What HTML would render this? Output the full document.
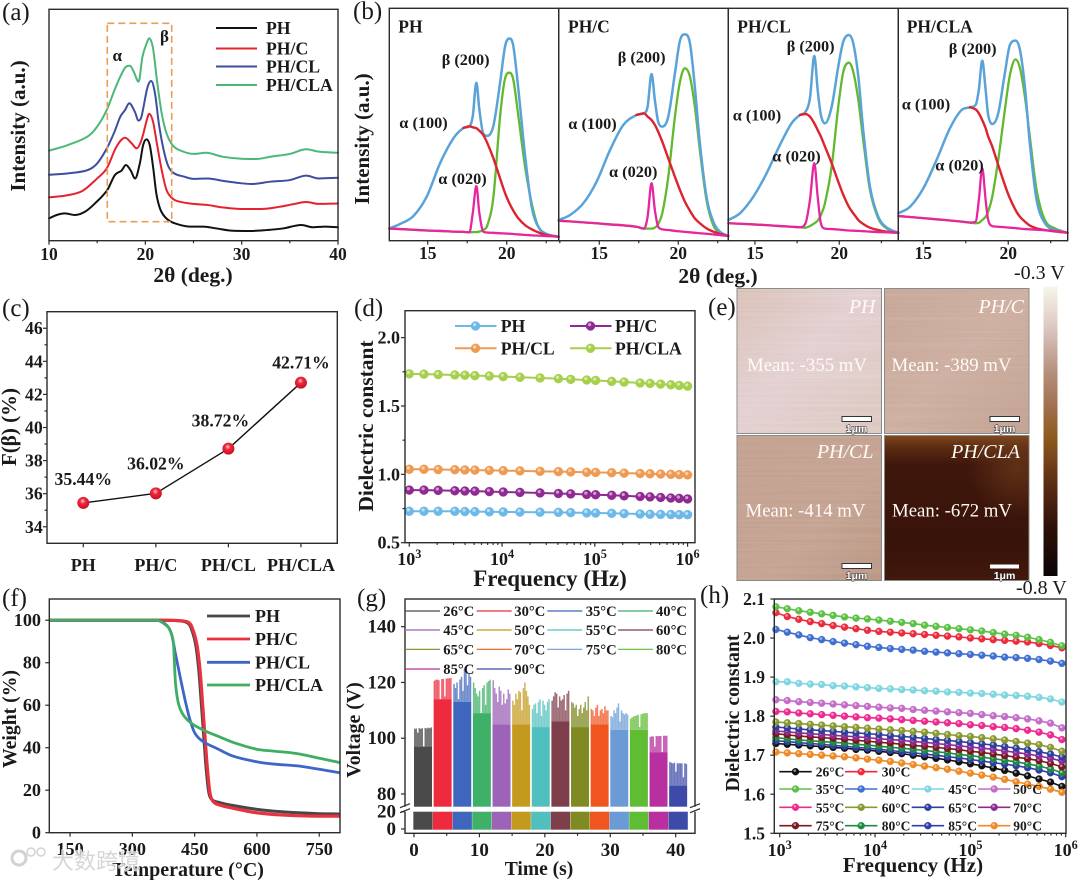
<!DOCTYPE html>
<html lang="en">
<head>
<meta charset="utf-8">
<title>PH composite characterisation figure</title>
<style>
html,body{margin:0;padding:0;background:#fff;}
svg{display:block;}
text{font-family:"Liberation Serif","Noto Serif CJK SC",serif;fill:#1a1a1a;}
.b{font-weight:bold;}
.w{fill:#fffaf6;}
.wm{font-family:"Liberation Sans","Noto Sans CJK SC",sans-serif;fill:#cfcfcf;stroke:#fff;stroke-width:1.5px;paint-order:stroke;opacity:.85;}
.sb{font-family:"Liberation Sans",sans-serif;font-weight:bold;fill:#fff;stroke:#222;stroke-width:1px;paint-order:stroke;}
</style>
</head>
<body>
<svg id="figure" xmlns="http://www.w3.org/2000/svg" width="1080" height="880" viewBox="0 0 1080 880">
<defs>
<radialGradient id="redBall" cx="45%" cy="35%" r="65%"><stop offset="0" stop-color="#ffc9cf"/><stop offset=".35" stop-color="#f0283c"/><stop offset="1" stop-color="#c3101f"/></radialGradient>
<linearGradient id="cbar" x1="0" y1="0" x2="0" y2="1">
<stop offset="0" stop-color="#f7f6ea"/><stop offset=".14" stop-color="#dcc8c2"/><stop offset=".3" stop-color="#b58e7b"/><stop offset=".42" stop-color="#a06f4c"/><stop offset=".52" stop-color="#8f5a1e"/><stop offset=".68" stop-color="#5b2d14"/><stop offset=".84" stop-color="#2c0f08"/><stop offset="1" stop-color="#0b0505"/>
</linearGradient>
<linearGradient id="afmA" x1="0" y1="0" x2="1" y2="1"><stop offset="0" stop-color="#d8bfb4"/><stop offset=".45" stop-color="#e2ced0"/><stop offset="1" stop-color="#dcc7be"/></linearGradient>
<linearGradient id="afmB" x1="0" y1="0" x2="1" y2="1"><stop offset="0" stop-color="#c6a696"/><stop offset=".5" stop-color="#cdaea0"/><stop offset="1" stop-color="#c1a08f"/></linearGradient>
<linearGradient id="afmC" x1="0" y1="0" x2="1" y2="1"><stop offset="0" stop-color="#c2a08e"/><stop offset=".6" stop-color="#c4a291"/><stop offset="1" stop-color="#b99582"/></linearGradient>
<linearGradient id="afmD" x1="0" y1="0" x2="0" y2="1"><stop offset="0" stop-color="#80491f"/><stop offset=".08" stop-color="#5c2c12"/><stop offset=".2" stop-color="#3f170b"/><stop offset=".75" stop-color="#38130a"/><stop offset="1" stop-color="#42180b"/></linearGradient>
<radialGradient id="afmD2" cx="92%" cy="22%" r="35%"><stop offset="0" stop-color="#7a4620" stop-opacity=".55"/><stop offset="1" stop-color="#7a4620" stop-opacity="0"/></radialGradient>
<filter id="streak" x="0" y="0" width="100%" height="100%"><feTurbulence type="fractalNoise" baseFrequency="0.004 0.45" numOctaves="2" seed="4"/><feColorMatrix type="matrix" values="0 0 0 0 1  0 0 0 0 1  0 0 0 0 1  .55 0 0 0 -.14"/></filter>
</defs>
<rect width="1080" height="880" fill="#fff"/>

<g id="panelA">
<text x="2" y="20" font-size="25">(a)</text>
<text class="b" x="193" y="282" font-size="21.5" text-anchor="middle">2θ (deg.)</text>
<text class="b" transform="translate(25,126) rotate(-90)" font-size="21" text-anchor="middle">Intensity (a.u.)</text>
<text class="b" x="112.5" y="61" font-size="17">α</text>
<text class="b" x="160" y="42" font-size="17">β</text>
</g>
<g id="panelB">
<text x="353" y="19" font-size="25">(b)</text>
<text class="b" x="718" y="283" font-size="21.5" text-anchor="middle">2θ (deg.)</text>
<text class="b" transform="translate(369,139) rotate(-90)" font-size="21" text-anchor="middle">Intensity (a.u.)</text>
</g>
<g id="panelC">
<text x="2" y="316" font-size="25">(c)</text>
<text class="b" transform="translate(16,427) rotate(-90)" font-size="21" text-anchor="middle">F(β) (%)</text>
</g>
<g id="panelD">
<text x="354" y="316" font-size="25">(d)</text>
<text class="b" x="550" y="586" font-size="23" text-anchor="middle">Frequency (Hz)</text>
<text class="b" transform="translate(373,426) rotate(-90)" font-size="21.5" text-anchor="middle">Dielectric constant</text>
</g>
<g id="panelE">
<text x="708" y="315" font-size="25">(e)</text>
<g>
<rect x="737" y="288.5" width="144.5" height="145" fill="url(#afmA)" stroke="#8a8a8a" stroke-width="1"/>
<rect x="737" y="289" width="144" height="144" filter="url(#streak)" opacity=".5"/>
<text class="w" x="875.5" y="313" font-size="20" font-style="italic" text-anchor="end">PH</text>
<text class="w" x="747" y="371" font-size="18.8">Mean: -355 mV</text>
<rect x="842" y="416.5" width="29.5" height="5" fill="#fff" stroke="#333" stroke-width="1"/>
<text class="sb" x="856.5" y="432" font-size="10.5" text-anchor="middle">1μm</text>
</g>
<g>
<rect x="884.5" y="288.5" width="144.5" height="145" fill="url(#afmB)" stroke="#8a8a8a" stroke-width="1"/>
<rect x="885" y="289" width="144" height="144" filter="url(#streak)" opacity=".3"/>
<text class="w" x="1024" y="313" font-size="20" font-style="italic" text-anchor="end">PH/C</text>
<text class="w" x="891.5" y="371" font-size="18.8">Mean: -389 mV</text>
<rect x="990" y="416.5" width="29.5" height="5" fill="#fff" stroke="#333" stroke-width="1"/>
<text class="sb" x="1004.5" y="432" font-size="10.5" text-anchor="middle">1μm</text>
</g>
<g>
<rect x="737" y="435.5" width="144.5" height="145" fill="url(#afmC)" stroke="#8a8a8a" stroke-width="1"/>
<rect x="737" y="436" width="144" height="144" filter="url(#streak)" opacity=".25"/>
<text class="w" x="873.5" y="458" font-size="20" font-style="italic" text-anchor="end">PH/CL</text>
<text class="w" x="745.5" y="516.5" font-size="18.8">Mean: -414 mV</text>
<rect x="842" y="563.5" width="29.5" height="5" fill="#fff" stroke="#333" stroke-width="1"/>
<text class="sb" x="856.5" y="579" font-size="10.5" text-anchor="middle">1μm</text>
</g>
<g>
<rect x="884.5" y="435.5" width="144.5" height="145" fill="url(#afmD)" stroke="#8a8a8a" stroke-width="1"/>
<rect x="885" y="436" width="144" height="144" fill="url(#afmD2)"/>
<text class="w" x="1020" y="458" font-size="20" font-style="italic" text-anchor="end">PH/CLA</text>
<text class="w" x="892" y="516.5" font-size="18.8">Mean: -672 mV</text>
<rect x="990" y="564.5" width="29" height="4" fill="#fff"/>
<text class="sb" x="1004.5" y="579" font-size="10.5" text-anchor="middle">1μm</text>
</g>
<rect x="1043.5" y="286.5" width="14" height="289.5" fill="url(#cbar)"/>
<text x="1014" y="279" font-size="20">-0.3 V</text>
<text x="1016" y="594" font-size="20">-0.8 V</text>
</g>
<g id="panelF">
<text x="2" y="606" font-size="25">(f)</text>
<text class="b" x="188" y="876" font-size="20" text-anchor="middle">Temperature (°C)</text>
<text class="b" transform="translate(16,719) rotate(-90)" font-size="19.7" text-anchor="middle">Weight (%)</text>
</g>
<g id="panelG">
<text x="357" y="606" font-size="25">(g)</text>
<text class="b" x="539" y="875" font-size="19.5" text-anchor="middle">Time (s)</text>
<text class="b" transform="translate(360,730) rotate(-90)" font-size="19.8" text-anchor="middle">Voltage (V)</text>
</g>
<g id="panelH">
<text x="700" y="603" font-size="25">(h)</text>
<text class="b" x="913" y="872" font-size="21" text-anchor="middle">Frequency (Hz)</text>
<text class="b" transform="translate(739,713) rotate(-90)" font-size="19.7" text-anchor="middle">Dielectric constant</text>
</g>
<g id="watermark">
<circle cx="19" cy="858" r="7" fill="none" stroke="#d2d2d2" stroke-width="3"/>
<circle cx="31" cy="852" r="4" fill="none" stroke="#d2d2d2" stroke-width="1.5"/>
<circle cx="41" cy="852" r="4" fill="none" stroke="#d2d2d2" stroke-width="1.5"/>
<text class="wm" x="52" y="869" font-size="22">大数跨境</text>
</g>
</svg>
<script>
/* ---------- panel (a) data ---------- */
const aThetaPH=[10,10.8,11.65,12.7,13.73,14.77,16.05,16.84,17.53,17.98,18.46,18.94,19.43,19.77,20.12,20.46,20.81,21.15,21.57,22.19,23.06,24.62,26,27.38,29.11,30.83,32.56,34.29,36.19,37.4,38.61,40];
const aIntensityPH=[9.65,11.1,11.8,11.1,12.5,16.1,21.9,28.4,30.3,32.7,30.5,26.9,33.4,41.3,43.8,41.3,31.7,20.2,13.4,9.6,7.5,6.1,6.1,5.3,4.3,4.2,4.6,5.3,6.8,5.8,6.1,5.8];
const aThetaPHC=[10,12,13.5,15,16,17,17.9,18.6,19.1,19.6,20.2,20.4,20.8,21.2,21.7,22.2,22.8,23.5,25,26.5,28,30,32,34,35.5,36.7,38,40];
const aIntensityPHC=[18.7,19.7,21.6,26.9,31.3,40.6,44.5,42,39.9,43.5,52.9,54.8,51.4,42,30.5,21.9,18.3,16.9,15.9,15.4,14.4,13.7,13.7,14.7,15.9,16.7,15.9,16.1];
const aThetaPHCL=[10,12,14,15,16,16.8,17.4,17.9,18.33,18.9,19.3,19.6,20.2,20.6,21,21.4,21.9,22.4,23,24,25,26.5,28,30,31,33,35,36.7,38,40];
const aIntensityPHCL=[28.5,29.1,30.5,33.4,39.9,47.1,53.6,56.5,59.4,55.8,51.9,53.6,65.9,69,63.7,50.7,39.2,32,29.1,27.7,26.7,26.9,25.9,24.8,24.5,25.5,26.2,28.1,26.9,27.2];
const aThetaPHCLA=[10,12,14,15,16,16.8,17.4,18,18.4,18.8,19.3,19.7,20.2,20.4,20.8,21.2,21.7,22.2,22.8,23.5,25,26.3,28,30,31.5,33,35,36.7,38,40];
const aIntensityPHCLA=[38.9,41.4,45,49.3,56.5,65.1,70.9,75.2,75.6,73,68.7,79.5,86,87.5,83.1,69.5,55,46.4,41.4,39.2,37.5,38,36.3,35.4,35.3,36.3,37.5,39.5,38.5,38];
const aTickLabels=[10,20,30,40];
const aMinorTicks=[15,25,35];
const sampleNames=['PH','PH/C','PH/CL','PH/CLA'];

/* ---------- panel (b) data ---------- */
const bThetaPH=[12.57,13.25,14.09,14.94,15.78,16.63,17.26,17.64,17.85,18.08,18.27,18.52,18.78,19.16,19.58,19.9,20.17,20.42,20.74,21.16,21.58,22,22.53,23.29];
const bEnvelopePH=[5.3,7.2,10.6,19,33.3,44.1,48.5,49.2,53.5,67.9,56.4,46,45.1,49.5,67.9,83.7,87,83.7,65,36.7,14.6,6,2.9,1.7];
const bAlpha100PH=[5.3,7.2,10.6,19,33.3,44.1,48.5,49.2,48.8,48.4,47.3,45.5,41.9,35.4,26.8,20.4,16.1,12.9,9.6,6.7,4.9,3.6,2.4,1.7];
const bBeta200PH=[5.2,5,4.7,4.4,4.2,3.9,3.8,3.6,3.7,3.7,3.9,4.6,6.7,18.9,53.4,69.9,72.3,69.2,53.4,31.9,16.1,6,2.9,1.7];
const bAlpha020PH=[5.2,5,4.7,4.4,4.2,3.9,3.8,3.6,11.8,23.5,11.8,3.9,3.5,3.4,3.2,3.1,3,2.9,2.7,2.5,2.3,2.2,2,1.7];
const bThetaPHC=[12.43,13.14,13.99,14.83,15.68,16.52,17.36,17.83,18.06,18.31,18.52,18.73,18.99,19.37,19.79,20.11,20.42,20.74,21.05,21.37,21.79,22.22,22.64,23.17];
const bEnvelopePHC=[8.9,11,16.1,25.4,39,49.8,54.1,54.8,57.7,71.7,60.5,51.2,49.1,53.4,72,86.1,88.8,85,66.3,41.9,18.9,8.2,3.9,2];
const bAlpha100PHC=[8.9,11,16.1,25.4,39,49.8,54.1,54.8,53.4,51.9,49.8,46.9,42.6,35.4,27.5,21.8,16.8,12.9,9.6,7.5,5.3,3.9,2.9,2];
const bBeta200PHC=[8.6,8.3,7.9,7.5,7,6.6,6,5.2,5.2,5.2,5.6,7.2,11.8,27.5,53.4,68.4,74.2,70.6,57.7,39,17.5,6.7,3.4,2];
const bAlpha020PHC=[8.6,8.3,7.9,7.5,7,6.6,6,5.2,10.3,24.7,13.2,6,4.9,4.6,4.2,4,3.8,3.6,3.4,3.2,3,2.7,2.4,2];
const bThetaPHCL=[13.42,14.11,14.9,15.69,16.48,17.17,17.67,18,18.26,18.52,18.72,18.91,19.15,19.55,19.94,20.24,20.57,20.83,21.13,21.42,21.82,22.31,22.81,23.5];
const bEnvelopePHCL=[8.9,11.8,18.9,29,41.2,50.5,54.1,55.5,61.3,79.5,64.8,54.1,50.5,57.7,74.9,85.7,88.5,84.9,70.6,47.6,23.2,10.3,5.7,3.4];
const bAlpha100PHCL=[8.9,11.8,18.9,29,41.2,50.5,54.1,54.5,53.4,50.5,47.6,44.8,40.5,33.3,25.4,19.7,14.6,11.8,8.9,7.2,5.6,4.6,3.9,3.4];
const bBeta200PHCL=[7.5,7.3,7,6.7,6.3,6,5.8,5.6,6.3,7.5,8.6,11,16.1,31.9,57.7,72.7,76.6,72.7,60.5,43.3,21.8,9.6,5.3,3.4];
const bAlpha020PHCL=[7.5,7.3,7,6.7,6.3,6,5.8,7.5,17.5,33.3,18.9,7.5,5.2,5,4.8,4.6,4.4,4.3,4.2,4.1,3.9,3.7,3.6,3.4];
const bThetaPHCLA=[13.53,14.22,15,15.78,16.57,17.25,17.75,18.08,18.27,18.47,18.67,18.82,19.06,19.41,19.8,20.1,20.43,20.69,20.98,21.27,21.67,22.16,22.75,23.49];
const bEnvelopePHCLA=[11.8,14.6,22.5,34.7,48.4,56.2,57.4,58.4,64.9,77.5,64.9,54.1,50.2,54.8,72,84.2,86.1,82.1,66.3,41.9,17.5,7.5,4.6,3.4];
const bAlpha100PHCLA=[11.8,14.6,22.5,34.7,48.4,56.2,57.4,56.5,54.8,51.9,48.4,44.8,40.5,32.6,24,18.2,13.2,10.3,8.2,6.5,5.3,4.6,4,3.4];
const bBeta200PHCLA=[10.6,10.2,9.7,9.2,8.7,8.2,7.8,7.5,7.7,8.9,10.3,12.5,18.9,34.7,56.2,71.3,78,74.2,62,44.8,21.8,8.9,5.3,3.4];
const bAlpha020PHCLA=[10.6,10.2,9.7,9.2,8.7,8.2,7.8,8.2,17.5,31.1,17.5,8.9,6.3,6,5.8,5.6,5.4,5.2,5,4.9,4.7,4.5,4.2,3.4];
const bTickLabels=[15,20];
const bMinorTicks=[12.5,17.5,22.5];

/* ---------- panel (c) data ---------- */
const cCategories=['PH','PH/C','PH/CL','PH/CLA'];
const cBetaFraction=[35.44,36.02,38.72,42.71];
const cTickLabels=[34,36,38,40,42,44,46];

/* ---------- panel (d) data ---------- */
const dFrequency=[1000,1440,2050,3100,3980,5100,7300,10300,15600,25700,40500,55000,81800,102000,152000,207000,308000,394000,513000,660000,813000,1000000];
const dPH=[.73,.73,.73,.73,.728,.727,.726,.725,.724,.723,.722,.72,.718,.717,.715,.713,.71,.708,.707,.706,.705,.705];
const dPHC=[.885,.885,.883,.88,.878,.877,.874,.871,.868,.864,.86,.857,.853,.851,.847,.843,.838,.835,.831,.827,.824,.82];
const dPHCL=[1.037,1.037,1.035,1.034,1.032,1.031,1.029,1.027,1.025,1.022,1.02,1.018,1.015,1.014,1.012,1.009,1.006,1.004,1.002,1,.998,.996];
const dPHCLA=[1.735,1.733,1.73,1.727,1.725,1.722,1.719,1.715,1.71,1.705,1.7,1.695,1.69,1.687,1.68,1.675,1.668,1.665,1.66,1.655,1.65,1.645];
const dYTicks=['0.5','1.0','1.5','2.0'];
const dYMinorTicks=[.75,1.25,1.75];
const logExponents=[3,4,5,6];

/* ---------- panel (f) data ---------- */
const fTempPH=[100,200,300,380,420,432,440,452,460,466,472,478,484,492,510,543,600,664,744,800];
const fWeightPH=[100,100,100,100,99.6,98.8,97,89,76.5,61,45,29.5,19,15.5,14.2,12.8,11,9.8,9,8.8];
const fTempPHC=[100,200,300,380,420,435,443,455,463,469,475,481,487,495,511,543,599,664,744,800];
const fWeightPHC=[100,100,100,100,99.7,99,97,89,76.5,61,45,29.5,18.5,14.6,13,11.5,9.4,8.3,7.8,7.8];
const fTempPHCL=[100,200,300,358,383,395,403,415,427,439,451,471,503,543,599,640,695,752,800];
const fWeightPHCL=[100,100,100,100,97.6,93,85,73.4,62.4,53,46.7,42.8,39.7,36,33.4,32.3,31.5,29.8,28.2];
const fTempPHCLA=[100,200,300,358,379,391,399,401,404,411,423,443,471,511,543,599,640,695,752,800];
const fWeightPHCLA=[100,100,100,100,98,95.3,89,81,70,60.8,55.3,51.4,48.3,45,42.5,39.3,38.4,37.3,35,33];
const fXTicks=[150,300,450,600,750];
const fYTicks=[0,20,40,60,80,100];

/* ---------- panel (g) data ---------- */
const gTemperatures=['26°C','30°C','35°C','40°C','45°C','50°C','55°C','60°C','65°C','70°C','75°C','80°C','85°C','90°C'];
const gStartTimes=[0,3,6,9,12,15,18,21,24,27,30,33,36,39];
const gSteadyVoltage=[97,114,113,109,105,105,104,106,104,105,103,103,95,83];
const gPulses26=[103.4,103.5,102,103.6,103.4,103.6,96,103.7,103.5,103.8,103.6,103.9];
const gPulses30=[120.6,121,121,120.8,114,121.2,121.3,115,121.4,121.5,121.5,121.6];
const gPulses35=[119.5,118,120,114,121,122,117,125,124,119,123,122];
const gPulses40=[120,118,116,115,117,108,118,119,112,120,120.5,121];
const gPulses45=[120.8,118,116,113,118.5,117,112,116,112.5,114,117.5,116];
const gPulses50=[113.5,112,116,114,117,116.5,110,118,120,117,115,112];
const gPulses55=[110.5,112,112.5,109,113,114,108,113.5,112,110,113,114];
const gPulses60=[113.5,115,116.5,116,111,115,113.5,114,115.5,110,116,117];
const gPulses65=[113,112.5,111,112,108,110.5,112,109,111,113,110,115];
const gPulses70=[110.5,110,108,111,112,108,110,110.5,109,111.5,110,110];
const gPulses75=[108,107.5,110,109,111,112.5,106,110,109,108.5,109,108.5];
const gPulses80=[107,107.5,107.8,108,108.2,108.4,104,108.6,108.8,109,109,109];
const gPulses85=[100.5,100.7,100.6,97,100.8,100.7,100.8,100.8,95,100.9,100.9,100.9];
const gPulses90=[91.5,91.2,91,91.2,88,91,91,91,91,86,91,90.8];
const gUpperTicks=[80,100,120,140];
const gLowerTicks=[0,20];
const gXTicks=[0,10,20,30,40];
const gXMinorTicks=[5,15,25,35];

/* ---------- panel (h) data ---------- */
const hTemperatures=['26°C','30°C','35°C','40°C','45°C','50°C','55°C','60°C','65°C','70°C','75°C','80°C','85°C','90°C'];
const hFrequency=[912,1200,1584,2089,2754,3631,4786,6310,8318,10965,14454,19055,25119,33113,43652,57544,75858,100000,131826,173780,229087,301995,398107,524807,691831,912011];
const h26=[1.73,1.728,1.726,1.724,1.722,1.72,1.718,1.715,1.713,1.71,1.707,1.704,1.7,1.696,1.692,1.688,1.683,1.678,1.673,1.667,1.661,1.654,1.647,1.639,1.631,1.62];
const h30=[2.065,2.055,2.048,2.042,2.037,2.032,2.028,2.024,2.02,2.017,2.015,2.013,2.011,2.009,2.007,2.005,2.003,2,1.998,1.996,1.994,1.992,1.99,1.986,1.981,1.975];
const h35=[2.08,2.075,2.07,2.066,2.062,2.058,2.054,2.051,2.049,2.046,2.043,2.04,2.037,2.033,2.03,2.027,2.024,2.021,2.018,2.014,2.01,2.007,2.002,1.996,1.989,1.98];
const h40=[2.022,2.015,2.008,2.001,1.996,1.991,1.987,1.983,1.979,1.976,1.973,1.971,1.969,1.966,1.964,1.962,1.96,1.958,1.956,1.954,1.951,1.95,1.948,1.945,1.941,1.935];
const h45=[1.888,1.888,1.884,1.882,1.881,1.878,1.877,1.875,1.873,1.871,1.87,1.868,1.867,1.865,1.864,1.862,1.861,1.859,1.858,1.856,1.854,1.853,1.851,1.848,1.844,1.836];
const h50=[1.842,1.84,1.837,1.835,1.833,1.831,1.829,1.827,1.825,1.823,1.821,1.82,1.817,1.815,1.813,1.811,1.809,1.807,1.804,1.801,1.799,1.796,1.793,1.788,1.782,1.77];
const h55=[1.812,1.811,1.808,1.806,1.804,1.802,1.8,1.798,1.796,1.795,1.793,1.791,1.789,1.787,1.785,1.783,1.781,1.778,1.776,1.773,1.771,1.768,1.764,1.759,1.752,1.74];
const h60=[1.785,1.783,1.781,1.779,1.777,1.775,1.773,1.771,1.769,1.767,1.765,1.763,1.761,1.759,1.756,1.753,1.75,1.748,1.745,1.742,1.739,1.735,1.731,1.727,1.72,1.71];
const h65=[1.772,1.77,1.767,1.765,1.763,1.761,1.759,1.757,1.755,1.753,1.75,1.748,1.746,1.743,1.74,1.738,1.735,1.732,1.729,1.726,1.722,1.718,1.714,1.709,1.703,1.695];
const h70=[1.762,1.76,1.757,1.755,1.753,1.751,1.749,1.747,1.745,1.742,1.74,1.738,1.735,1.733,1.73,1.727,1.724,1.721,1.718,1.715,1.711,1.707,1.703,1.698,1.692,1.685];
const h75=[1.755,1.752,1.749,1.747,1.745,1.743,1.741,1.738,1.736,1.733,1.731,1.728,1.725,1.723,1.72,1.717,1.714,1.71,1.707,1.703,1.699,1.695,1.691,1.686,1.679,1.67];
const h80=[1.745,1.742,1.739,1.737,1.735,1.733,1.731,1.728,1.726,1.723,1.72,1.718,1.715,1.712,1.709,1.706,1.702,1.699,1.695,1.691,1.687,1.683,1.678,1.672,1.665,1.655];
const h85=[1.737,1.735,1.732,1.73,1.728,1.725,1.723,1.72,1.718,1.715,1.712,1.709,1.706,1.703,1.7,1.696,1.693,1.689,1.685,1.681,1.677,1.673,1.668,1.662,1.655,1.645];
const h90=[1.708,1.706,1.704,1.702,1.7,1.698,1.696,1.693,1.69,1.687,1.684,1.68,1.676,1.672,1.668,1.664,1.659,1.654,1.649,1.644,1.638,1.632,1.626,1.62,1.613,1.605];
const hYTicks=['1.5','1.6','1.7','1.8','1.9','2.0','2.1'];

/* ---------- helpers ---------- */
const NS='http://www.w3.org/2000/svg';
const AX='#2b2b2b';
function add(parent,tag,attrs){
  const n=document.createElementNS(NS,tag);
  for(const k in attrs){n.setAttribute(k,attrs[k]);}
  parent.appendChild(n);
  return n;
}
function mark(n,name){
  
  
  return n;
}
function label(parent,name,str,x,y,size,anchor){
  const t=add(parent,'text',{x:x,y:y,'font-size':size,'text-anchor':anchor||'start','class':'b'});
  t.textContent=str;
  return mark(t,name);
}
function powerLabel(parent,name,exp,x,y,size){
  const t=add(parent,'text',{x:x,y:y,'font-size':size,'text-anchor':'middle','class':'b'});
  t.textContent='10';
  const s=add(t,'tspan',{dy:-7,'font-size':size*.68});
  s.textContent=exp;
  return mark(t,name);
}
function lin(d0,d1,r0,r1){return v=>r0+(v-d0)*(r1-r0)/(d1-d0);}
function logx(d0,d1,r0,r1){return v=>r0+(Math.log10(v)-d0)*(r1-r0)/(d1-d0);}
function frame(parent,name,x0,y0,x1,y1){
  return mark(add(parent,'rect',{x:x0,y:y0,width:x1-x0,height:y1-y0,fill:'none',stroke:AX,'stroke-width':1.4}),name);
}
function tick(parent,name,x1,y1,x2,y2){
  return mark(add(parent,'line',{x1:x1,y1:y1,x2:x2,y2:y2,stroke:AX,'stroke-width':1.2}),name);
}
function straightPath(pts){return pts.map((p,i)=>(i?'L':'M')+p[0].toFixed(2)+' '+p[1].toFixed(2)).join('');}
function smoothPath(pts){
  const n=pts.length,d=[],m=[];
  for(let i=0;i<n-1;i++){d[i]=(pts[i+1][1]-pts[i][1])/(pts[i+1][0]-pts[i][0]);}
  m[0]=d[0];m[n-1]=d[n-2];
  for(let i=1;i<n-1;i++){
    if(d[i-1]*d[i]<=0){m[i]=0;}
    else{
      const c=(pts[i+1][1]-pts[i-1][1])/(pts[i+1][0]-pts[i-1][0]);
      const lim=3*Math.min(Math.abs(d[i-1]),Math.abs(d[i]));
      m[i]=Math.sign(c)*Math.min(Math.abs(c),lim);
    }
  }
  let s='M'+pts[0][0].toFixed(2)+' '+pts[0][1].toFixed(2);
  for(let i=0;i<n-1;i++){
    const h=(pts[i+1][0]-pts[i][0])/3;
    s+='C'+(pts[i][0]+h).toFixed(2)+' '+(pts[i][1]+m[i]*h).toFixed(2)+' '+(pts[i+1][0]-h).toFixed(2)+' '+(pts[i+1][1]-m[i+1]*h).toFixed(2)+' '+pts[i+1][0].toFixed(2)+' '+pts[i+1][1].toFixed(2);
  }
  return s;
}
function curve(parent,name,xs,ys,sx,sy,color,width,smooth){
  const pts=xs.map((x,i)=>[sx(x),sy(ys[i])]);
  return mark(add(parent,'path',{d:smooth===false?straightPath(pts):smoothPath(pts),fill:'none',stroke:color,'stroke-width':width,'stroke-linejoin':'round','stroke-linecap':'round'}),name);
}
function marker(parent,name,cx,cy,r,color){
  mark(add(parent,'circle',{cx:cx,cy:cy,r:r,fill:color,stroke:color,'stroke-width':.4}),name);
  mark(add(parent,'circle',{cx:cx-r*.2,cy:cy-r*.3,r:r*.36,fill:'#fff',opacity:.55}),name+'-highlight');
}

/* ---------- panel a ---------- */
(function(){
  const g=document.getElementById('panelA');
  const X0=49,X1=338,Y0=9.3,Y1=240.7;
  const sx=lin(10,40,X0,X1),sy=lin(0,100,Y1,Y0);
  const series=[[aThetaPH,aIntensityPH,'#111111'],[aThetaPHC,aIntensityPHC,'#e5232f'],[aThetaPHCL,aIntensityPHCL,'#3d4da0'],[aThetaPHCLA,aIntensityPHCLA,'#4cb878']];
  series.forEach((s,i)=>{curve(g,'xrd-curve-'+i,s[0],s[1],sx,sy,s[2],2);});
  const box=add(g,'rect',{x:107.3,y:23.3,width:64.4,height:198.4,fill:'none',stroke:'#ea9e55','stroke-width':1.6,'stroke-dasharray':'7 4'});
  
  
  frame(g,'plot-frame-a',X0,Y0,X1,Y1);
  aTickLabels.forEach(v=>{
    tick(g,'x-tick-a-'+v,sx(v),Y1,sx(v),Y1+4);
    label(g,'x-tick-label-a-'+v,String(v),sx(v),260,17.5,'middle');
  });
  aMinorTicks.forEach(v=>{tick(g,'x-minor-tick-a-'+v,sx(v),Y1,sx(v),Y1+2.5);});
  const rows=[28,48.5,66.5,85];
  sampleNames.forEach((n,i)=>{
    mark(add(g,'line',{x1:216,x2:257,y1:rows[i],y2:rows[i],stroke:series[i][2],'stroke-width':2}),'legend-line-a-'+i);
    label(g,'legend-label-a-'+i,n,266,rows[i]+6,17.7);
  });
})();

/* ---------- panel b ---------- */
(function(){
  const g=document.getElementById('panelB');
  const Y0=8.3,Y1=240.7;
  const sy=lin(0,100,Y1,Y0);
  const panels=[
    {n:'PH',x0:389.3,x1:558.7,d0:12.57,d1:23.29,t:bThetaPH,e:bEnvelopePH,a:bAlpha100PH,b:bBeta200PH,c:bAlpha020PH,lx:398.3,bl:[441.7,65],al:[399.3,128],cl:[438.3,184]},
    {n:'PH/C',x0:558.7,x1:728.3,d0:12.43,d1:23.17,t:bThetaPHC,e:bEnvelopePHC,a:bAlpha100PHC,b:bBeta200PHC,c:bAlpha020PHC,lx:568,bl:[617.7,62.5],al:[568.3,129],cl:[609,177]},
    {n:'PH/CL',x0:728.3,x1:898.3,d0:13.42,d1:23.5,t:bThetaPHCL,e:bEnvelopePHCL,a:bAlpha100PHCL,b:bBeta200PHCL,c:bAlpha020PHCL,lx:737.3,bl:[786.7,51.7],al:[732.7,120.7],cl:[772.3,161.7]},
    {n:'PH/CLA',x0:898.3,x1:1067.7,d0:13.53,d1:23.5,t:bThetaPHCLA,e:bEnvelopePHCLA,a:bAlpha100PHCLA,b:bBeta200PHCLA,c:bAlpha020PHCLA,lx:906.7,bl:[948.7,54],al:[901.7,109.3],cl:[935.3,170.7]}
  ];
  panels.forEach((p,i)=>{
    const sx=lin(p.d0,p.d1,p.x0,p.x1);
    curve(g,'beta-200-peak-'+i,p.t,p.b,sx,sy,'#62b92d',2.3);
    curve(g,'envelope-curve-'+i,p.t,p.e,sx,sy,'#5aa3d8',2.5);
    curve(g,'alpha-100-peak-'+i,p.t.slice(6),p.a.slice(6),sx,sy,'#dc2430',2.4);
    curve(g,'alpha-020-peak-'+i,p.t,p.c,sx,sy,'#e6259f',2.3);
    frame(g,'subplot-frame-'+i,p.x0,Y0,p.x1,Y1);
    bTickLabels.forEach(v=>{
      tick(g,'x-tick-b-'+i+'-'+v,sx(v),Y1,sx(v),Y1+4);
      label(g,'x-tick-label-b-'+i+'-'+v,String(v),sx(v),259,17.5,'middle');
    });
    bMinorTicks.forEach(v=>{
      if(v>p.d0&&v<p.d1){tick(g,'x-minor-tick-b-'+i+'-'+v,sx(v),Y1,sx(v),Y1+2.5);}
    });
    label(g,'sample-label-b-'+i,p.n,p.lx,32.3,17.5);
    label(g,'beta-200-label-'+i,'β (200)',p.bl[0],p.bl[1],16.3);
    label(g,'alpha-100-label-'+i,'α (100)',p.al[0],p.al[1],16.3);
    label(g,'alpha-020-label-'+i,'α (020)',p.cl[0],p.cl[1],16.3);
  });
})();

/* ---------- panel c ---------- */
(function(){
  const g=document.getElementById('panelC');
  const X0=47,X1=337.3,Y0=311.7,Y1=543.3;
  const sy=lin(33,47,Y1,Y0);
  const catX=i=>83.3+i*72.55;
  curve(g,'beta-fraction-line',cCategories.map((c,i)=>i),cBetaFraction,catX,sy,'#111',1.4,false);
  const nudgeX=[0,0,-8,0],nudgeY=[18,24,22,14];
  cCategories.forEach((c,i)=>{
    const m=add(g,'circle',{cx:catX(i),cy:sy(cBetaFraction[i]),r:6,fill:'url(#redBall)'});
    
    
    label(g,'value-label-'+i,cBetaFraction[i].toFixed(2)+'%',catX(i)+nudgeX[i],sy(cBetaFraction[i])-nudgeY[i],17.7,'middle');
    tick(g,'x-tick-c-'+i,catX(i),Y1,catX(i),Y1+4);
    label(g,'category-label-'+i,c,i===3?301:catX(i),571,18,'middle');
  });
  frame(g,'plot-frame-c',X0,Y0,X1,Y1);
  cTickLabels.forEach(v=>{
    tick(g,'y-tick-c-'+v,X0,sy(v),X0-4,sy(v));
    label(g,'y-tick-label-c-'+v,String(v),42.7,sy(v)+6,17.7,'end');
    if(v<46){tick(g,'y-minor-tick-c-'+v,X0,sy(v+1),X0-2.5,sy(v+1));}
  });
})();

/* ---------- log axis helper ---------- */
function logAxis(g,prefix,sx,Y1,baseline,size){
  logExponents.forEach(e=>{
    const f=Math.pow(10,e);
    tick(g,'x-tick-'+prefix+'-'+e,sx(f),Y1,sx(f),Y1+4);
    powerLabel(g,'x-tick-label-'+prefix+'-'+e,String(e),sx(f),baseline,size);
    if(e<6){for(let k=2;k<10;k++){tick(g,'x-minor-tick-'+prefix+'-'+e+'-'+k,sx(k*f),Y1,sx(k*f),Y1+2.2);}}
  });
}

/* ---------- panel d ---------- */
(function(){
  const g=document.getElementById('panelD');
  const X0=405,X1=695,Y0=310.7,Y1=542.7;
  const sx=logx(2.954,6.08,X0,X1),sy=lin(.5,2.197,Y1,Y0);
  const series=[['ph',dPH,'#6cb9e8'],['ph-c',dPHC,'#8e2a92'],['ph-cl',dPHCL,'#ef9a52'],['ph-cla',dPHCLA,'#a6cf4c']];
  series.forEach(s=>{
    curve(g,'dielectric-line-'+s[0],dFrequency,s[1],sx,sy,s[2],2,false);
    dFrequency.forEach((f,i)=>{marker(g,'dielectric-point-'+s[0]+'-'+i,sx(f),sy(s[1][i]),4.5,s[2]);});
  });
  frame(g,'plot-frame-d',X0,Y0,X1,Y1);
  dYTicks.forEach(v=>{
    tick(g,'y-tick-d-'+v,X0,sy(+v),X0-4,sy(+v));
    label(g,'y-tick-label-d-'+v,v,400,sy(+v)+6,18,'end');
  });
  dYMinorTicks.forEach(v=>{tick(g,'y-minor-tick-d-'+v,X0,sy(v),X0-2.5,sy(v));});
  logAxis(g,'d',sx,Y1,565,18);
  const lx=[455,570],tx=[500.7,615],ly=[326,348.3];
  sampleNames.forEach((n,i)=>{
    const c=i%2,r=i>1?1:0;
    mark(add(g,'line',{x1:lx[c],x2:lx[c]+41.5,y1:ly[r],y2:ly[r],stroke:series[i][2],'stroke-width':2}),'legend-line-d-'+i);
    marker(g,'legend-marker-d-'+i,lx[c]+20.5,ly[r],4.5,series[i][2]);
    label(g,'legend-label-d-'+i,n,tx[c],ly[r]+6,17.7);
  });
})();

/* ---------- panel f ---------- */
(function(){
  const g=document.getElementById('panelF');
  const X0=49.3,X1=340,Y0=599,Y1=832.7;
  const sx=lin(100,800,X0,X1),sy=lin(0,110,Y1,Y0);
  const series=[['ph',fTempPH,fWeightPH,'#474747',3],['ph-c',fTempPHC,fWeightPHC,'#e8323f',3.2],['ph-cl',fTempPHCL,fWeightPHCL,'#3f66c4',2.8],['ph-cla',fTempPHCLA,fWeightPHCLA,'#3fae63',2.8]];
  const clip=add(g,'clipPath',{id:'clipF'});
  mark(clip,'tga-clip');
  mark(add(clip,'rect',{x:X0,y:Y0,width:X1-X0,height:Y1-Y0}),'tga-clip-area');
  const inner=mark(add(g,'g',{'clip-path':'url(#clipF)'}),'tga-curves');
  series.forEach(s=>{curve(inner,'tga-curve-'+s[0],s[1],s[2],sx,sy,s[3],s[4]);});
  frame(g,'plot-frame-f',X0,Y0,X1,Y1);
  fXTicks.forEach(v=>{
    tick(g,'x-tick-f-'+v,sx(v),Y1,sx(v),Y1+4);
    label(g,'x-tick-label-f-'+v,String(v),sx(v),855,18.2,'middle');
  });
  fYTicks.forEach(v=>{
    tick(g,'y-tick-f-'+v,X0,sy(v),X0-4,sy(v));
    label(g,'y-tick-label-f-'+v,String(v),41,sy(v)+6,18.2,'end');
  });
  const rows=[616,639,662.3,685];
  sampleNames.forEach((n,i)=>{
    mark(add(g,'line',{x1:207,x2:250,y1:rows[i],y2:rows[i],stroke:series[i][3],'stroke-width':2.8}),'legend-line-f-'+i);
    label(g,'legend-label-f-'+i,n,255,rows[i]+6,18);
  });
})();

/* ---------- panel g ---------- */
(function(){
  const g=document.getElementById('panelG');
  const X0=405,X1=695,Y0=599,Y1=833.3,BT=806.7,BB=811.7;
  const sx=lin(0,40,414,675.7);
  const syU=lin(80,140,794,626.7),syL=lin(0,20,829,811.7);
  const colors=['#4a4a4a','#ee2a3d','#3f66bc','#3fb068','#9c63b8','#c49a1e','#4fc0bd','#7f3e4c','#808a22','#f0541f','#6b9bd6','#5fbd33','#b8309f','#3d4aa8'];
  const pulses=[gPulses26,gPulses30,gPulses35,gPulses40,gPulses45,gPulses50,gPulses55,gPulses60,gPulses65,gPulses70,gPulses75,gPulses80,gPulses85,gPulses90];
  const dur=2.75;
  gTemperatures.forEach((t,i)=>{
    const s=gStartTimes[i];
    const seg=mark(add(g,'g',{}),'voltage-segment-'+t.replace('°C','c'));
    mark(add(seg,'rect',{x:sx(s),y:syU(gSteadyVoltage[i]),width:sx(dur)-sx(0),height:BT-syU(gSteadyVoltage[i]),fill:colors[i]}),'voltage-steady-band-'+i);
    mark(add(seg,'rect',{x:sx(s-.1),y:BB,width:sx(dur+.2)-sx(0),height:syL(-.8)-BB,fill:colors[i]}),'voltage-lower-band-'+i);
    pulses[i].forEach((v,k)=>{
      const x=sx(s+(k+.5)/pulses[i].length*dur);
      mark(add(seg,'line',{x1:x,x2:x,y1:syU(gSteadyVoltage[i]),y2:syU(v),stroke:colors[i],'stroke-width':1.5,opacity:.75}),'voltage-pulse-'+i+'-'+k);
    });
  });
  frame(g,'plot-frame-g',X0,Y0,X1,Y1);
  mark(add(g,'rect',{x:X0-1.5,y:BT,width:3,height:BB-BT,fill:'#fff'}),'axis-gap-left');
  mark(add(g,'rect',{x:X1-1.5,y:BT,width:3,height:BB-BT,fill:'#fff'}),'axis-gap-right');
  [X0,X1].forEach((x,i)=>{
    tick(g,'axis-break-mark-top-'+i,x-5,BT+1,x+5,BT-3);
    tick(g,'axis-break-mark-bottom-'+i,x-5,BB+1,x+5,BB-3);
  });
  gUpperTicks.forEach(v=>{
    tick(g,'y-tick-g-'+v,X0,syU(v),X0-4,syU(v));
    label(g,'y-tick-label-g-'+v,String(v),396,syU(v)+6,19,'end');
  });
  gLowerTicks.forEach(v=>{
    tick(g,'y-tick-g-low-'+v,X0,syL(v),X0-4,syL(v));
    label(g,'y-tick-label-g-low-'+v,String(v),396,syL(v)+6,19,'end');
  });
  gXTicks.forEach(v=>{
    tick(g,'x-tick-g-'+v,sx(v),Y1,sx(v),Y1+4);
    label(g,'x-tick-label-g-'+v,String(v),sx(v),856,19,'middle');
  });
  gXMinorTicks.forEach(v=>{tick(g,'x-minor-tick-g-'+v,sx(v),Y1,sx(v),Y1+2.5);});
  const cols=[[405,443.3],[476.7,514.3],[547.3,585.7],[618,656]],rows=[611,630,649.3,669];
  gTemperatures.forEach((t,i)=>{
    const c=cols[i%4],r=rows[Math.floor(i/4)];
    mark(add(g,'line',{x1:c[0],x2:c[0]+35,y1:r,y2:r,stroke:colors[i],'stroke-width':1.2}),'legend-line-g-'+i);
    label(g,'legend-label-g-'+i,t,c[1],r+5,14.6);
  });
})();

/* ---------- panel h ---------- */
(function(){
  const g=document.getElementById('panelH');
  const X0=774.3,X1=1066,Y0=599,Y1=833.3;
  const sx=logx(2.943,6.003,X0,X1),sy=lin(1.5,2.1,Y1,Y0);
  const colors=['#111111','#ee2a3d','#5cc044','#3f6fd0','#7fd6e0','#c36cc8','#ee2a8f','#8a9a30','#2f3f9f','#8e2a92','#7a1a20','#1f8a44','#2f3fa8','#ef8a26'];
  const values=[h26,h30,h35,h40,h45,h50,h55,h60,h65,h70,h75,h80,h85,h90];
  const order=[0,13,12,11,10,9,8,7,6,5,4,3,1,2];
  order.forEach(i=>{
    const tag=hTemperatures[i].replace('°C','c');
    curve(g,'permittivity-line-'+tag,hFrequency,values[i],sx,sy,colors[i],1.6,false);
    hFrequency.forEach((f,k)=>{marker(g,'permittivity-point-'+tag+'-'+k,sx(f),sy(values[i][k]),3.5,colors[i]);});
  });
  frame(g,'plot-frame-h',X0,Y0,X1,Y1);
  hYTicks.forEach(v=>{
    tick(g,'y-tick-h-'+v,X0,sy(+v),X0-4,sy(+v));
    label(g,'y-tick-label-h-'+v,v,765,sy(+v)+6,17.5,'end');
  });
  logAxis(g,'h',sx,Y1,856,18);
  const cols=[[779.3,815.7],[845,881.7],[911.7,948.3],[978,1013.3]],rows=[771.7,789,807.3,825.7];
  hTemperatures.forEach((t,i)=>{
    const c=cols[i<2?i:(i-2)%4],r=rows[i<2?0:1+Math.floor((i-2)/4)];
    mark(add(g,'line',{x1:c[0],x2:c[0]+32.4,y1:r,y2:r,stroke:colors[i],'stroke-width':1.6}),'legend-line-h-'+i);
    marker(g,'legend-marker-h-'+i,c[0]+16.2,r,3.5,colors[i]);
    label(g,'legend-label-h-'+i,t,c[1],r+5,13.5);
  });
})();
document.getElementById('figure').appendChild(document.getElementById('watermark'));
</script>
</body>
</html>
